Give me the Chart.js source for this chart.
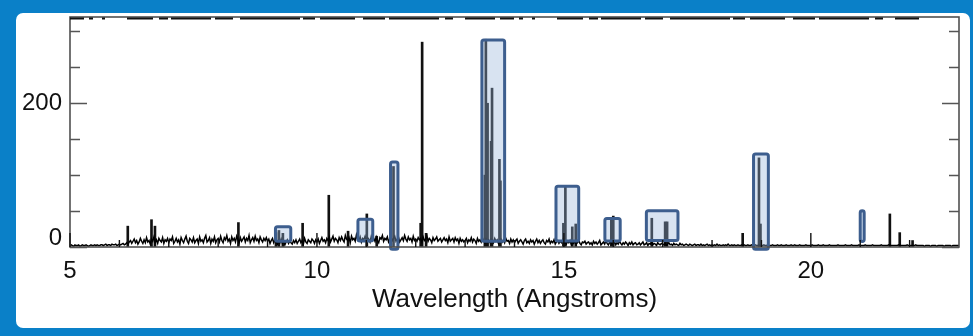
<!DOCTYPE html>
<html>
<head>
<meta charset="utf-8">
<script src="https://cdn.jsdelivr.net/npm/chart.js@4.4.1/dist/chart.umd.min.js"></script>
<style>
  html, body { margin: 0; padding: 0; background: #0a80c8; }
  #frame { position: relative; width: 973px; height: 336px; background: #0a80c8; overflow: hidden; }
  #panel { position: absolute; left: 16px; top: 13px; width: 954px; height: 315px; background: #ffffff; border-radius: 7px; }
  #chart { position: absolute; left: 0; top: 0; }
</style>
</head>
<body>
<div id="frame">
  <div id="panel"></div>
  <canvas id="chart" width="973" height="336"></canvas>
</div>
<script>
// Continuum counts on a regular wavelength grid (5.000 to 23.000 Angstroms, step 0.025)
const continuumStart = 5.0;
const continuumStep = 0.025;
const continuumCounts = [
  2,3,2,1,3,2,2,3,1,2,3,2,2,3,2,1,2,3,2,2,
  3,2,3,2,2,3,3,2,3,4,2,3,3,2,4,3,3,4,2,3,
  4,3,4,5,3,4,6,4,7,9,5,8,11,6,9,4,7,12,8,5,
  10,6,13,7,9,4,11,8,14,6,10,5,12,9,7,13,5,10,8,12,
  6,11,9,14,5,8,12,7,10,4,13,9,6,11,15,8,5,12,10,7,
  13,6,9,11,5,14,8,10,6,12,16,7,9,13,5,11,8,14,6,10,
  12,7,15,9,6,13,10,16,8,11,5,14,9,12,7,15,10,6,13,8,
  11,14,7,12,9,16,6,10,13,8,15,9,11,6,14,10,7,12,9,13,
  8,11,5,9,12,6,10,7,4,9,6,11,5,8,3,7,10,5,8,6,
  4,9,6,10,5,8,11,6,9,4,12,7,5,10,8,6,11,9,5,10,
  7,11,5,9,13,8,10,6,12,9,14,7,11,15,8,12,10,6,13,9,
  14,10,7,16,11,9,13,6,15,10,12,8,17,11,9,14,7,12,10,15,
  9,13,11,7,15,10,12,8,14,9,6,13,11,16,8,12,10,14,7,11,
  13,9,12,15,8,11,14,7,10,13,9,16,11,8,14,10,12,7,15,9,
  11,8,13,10,12,7,14,9,11,16,8,12,10,6,13,9,11,14,8,10,
  12,7,10,13,9,11,6,14,8,10,12,7,13,9,11,5,12,8,10,7,
  9,12,6,10,8,13,7,11,9,5,12,8,10,7,13,9,6,11,8,10,
  7,11,9,6,12,8,10,5,9,11,7,10,6,12,8,9,5,11,7,10,
  6,9,11,5,8,10,7,4,9,11,6,8,5,10,7,9,4,8,11,6,
  9,5,8,10,6,4,9,7,11,5,8,6,10,4,7,9,5,8,6,10,
  5,7,4,8,6,9,3,7,5,8,4,6,9,5,3,7,6,8,4,6,
  7,4,6,3,8,5,7,4,6,9,3,5,7,4,8,5,3,6,7,4,
  5,7,3,6,4,8,5,3,6,4,7,5,2,6,4,7,3,5,6,3,
  4,6,3,5,7,3,4,6,2,5,4,7,3,5,4,2,6,4,3,5,
  4,3,5,2,4,6,3,4,2,5,3,4,3,2,5,3,4,2,3,4,
  3,2,4,3,2,3,4,2,3,3,2,4,2,3,2,3,4,2,3,2,
  3,2,3,2,4,2,3,2,2,3,2,3,2,4,2,2,3,2,3,2,
  2,3,2,2,3,2,3,2,2,3,2,2,3,2,2,3,2,2,3,2,
  2,2,3,2,2,3,2,2,2,3,2,2,2,3,2,2,3,2,2,2,
  3,2,2,2,3,2,2,3,2,2,2,3,2,2,2,2,3,2,2,2,
  2,3,2,2,2,2,3,2,2,2,3,2,2,2,2,3,2,2,2,2,
  2,2,3,2,2,2,2,2,3,2,2,2,2,3,2,2,2,2,2,3,
  2,2,2,2,3,2,2,2,2,2,3,2,2,2,2,2,2,3,2,2,
  2,2,2,3,2,2,2,2,2,2,2,3,2,2,2,2,2,2,3,2,
  2,2,2,2,2,3,2,2,2,2,2,2,1,2,2,2,2,1,2,2,
  2,2,1,2,2,2,2,2,1,2,2,2,2,2,1,2,2,2,2,2,
  2
];

// Emission lines: wavelength (Angstroms) and peak counts
const lineWavelengths = [6.17, 6.65, 6.72, 8.41, 9.17, 9.23, 9.31, 9.71, 10.24, 10.63,
  11.01, 11.21, 11.55, 12.10, 12.13, 12.21, 13.40, 13.42, 13.455, 13.525,
  13.545, 13.695, 13.715, 14.99, 15.03, 15.17, 15.24, 15.96, 16.00, 16.78,
  17.05, 17.09, 18.62, 18.95, 18.98, 21.60, 21.80, 22.06];
const linePeaks = [29, 38, 29, 34, 20, 23, 19, 33, 72, 22,
  46, 15, 112, 33, 285, 19, 100, 289, 200, 147,
  221, 122, 92, 33, 85, 28, 32, 40, 43, 40,
  35, 35, 19, 124, 32, 46, 20, 9];

// Highlighted wavelength bands
const boxStart = [9.16, 10.83, 11.49, 13.34, 14.84, 15.83, 16.67, 18.84, 21.00];
const boxEnd   = [9.47, 11.13, 11.64, 13.80, 15.30, 16.14, 17.31, 19.14, 21.08];
const boxLow   = [8.0, 8.5, -3.0, 8.0, 8.5, 8.2, 8.9, -3.0, 7.6];
const boxHigh  = [28.2, 38.7, 118.4, 288.1, 84.5, 39.6, 50.4, 129.5, 50.5];

// Axis ticks
const xMajorTicks = [5, 10, 15, 20];
const xTickLabels = ['5', '10', '15', '20'];
const xMinorTicks = [6, 7, 8, 9, 11, 12, 13, 14, 16, 17, 18, 19, 21, 22];
const yMajorTicks = [0, 200];
const yTickLabels = ['0', '200'];
const yMinorTicks = [50, 100, 150, 250, 300];

const continuumPoints = continuumCounts.map((c, i) => ({
  x: +(continuumStart + i * continuumStep).toFixed(3), y: c
}));
const linePoints = lineWavelengths.map((w, i) => ({ x: w, y: linePeaks[i] }));

const FONT = "'Liberation Sans', Arial, Helvetica, sans-serif";

const bandBoxes = {
  id: 'bandBoxes',
  afterDatasetsDraw(chart) {
    const { ctx, scales: { x, y } } = chart;
    ctx.save();
    for (let i = 0; i < boxStart.length; i++) {
      const x0 = x.getPixelForValue(boxStart[i]);
      const x1 = x.getPixelForValue(boxEnd[i]);
      const y0 = y.getPixelForValue(boxHigh[i]);
      const y1 = y.getPixelForValue(boxLow[i]);
      ctx.beginPath();
      ctx.roundRect(x0, y0, x1 - x0, y1 - y0, 2);
      ctx.fillStyle = 'rgba(152,181,218,0.38)';
      ctx.fill();
      ctx.lineWidth = 3;
      ctx.strokeStyle = '#3d5e8e';
      ctx.stroke();
    }
    ctx.restore();
  }
};

const plotFrame = {
  id: 'plotFrame',
  afterDraw(chart) {
    const { ctx, chartArea: { left, right, top, bottom }, scales: { x, y } } = chart;
    ctx.save();
    ctx.lineCap = 'butt';
    // box around the plot
    ctx.strokeStyle = '#505050';
    ctx.lineWidth = 1.6;
    ctx.strokeRect(left, top, right - left, bottom - top);
    // ragged upper edge
    ctx.strokeStyle = '#111';
    ctx.lineWidth = 2.2;
    ctx.setLineDash([14, 5, 4, 9, 3, 22, 26, 6, 9, 3, 40, 4, 18, 7, 60, 3, 12, 5, 35, 8, 22, 4, 50, 6, 8, 12, 30, 5]);
    ctx.beginPath();
    ctx.moveTo(left, top + 1.5);
    ctx.lineTo(right - 40, top + 1.5);
    ctx.stroke();
    ctx.setLineDash([]);
    // y ticks, pointing inward on both sides
    ctx.strokeStyle = '#555';
    ctx.lineWidth = 1.6;
    const yTick = (v, len) => {
      const py = Math.round(y.getPixelForValue(v)) + 0.5;
      ctx.beginPath();
      ctx.moveTo(left, py); ctx.lineTo(left + len, py);
      ctx.moveTo(right, py); ctx.lineTo(right - len, py);
      ctx.stroke();
    };
    yMajorTicks.forEach(v => yTick(v, 17));
    yMinorTicks.forEach(v => yTick(v, 10));
    // x ticks, pointing up from the bottom axis
    ctx.strokeStyle = '#111';
    ctx.lineWidth = 1.4;
    const xTick = (v, len) => {
      const px = x.getPixelForValue(v);
      ctx.beginPath();
      ctx.moveTo(px, bottom); ctx.lineTo(px, bottom - len);
      ctx.stroke();
    };
    xMajorTicks.forEach(v => xTick(v, 14));
    xMinorTicks.forEach(v => xTick(v, 7));
    ctx.restore();
  }
};

new Chart(document.getElementById('chart'), {
  type: 'bar',
  data: {
    datasets: [
      {
        type: 'line',
        data: continuumPoints,
        borderColor: '#000',
        borderWidth: 1.5,
        pointRadius: 0,
        tension: 0,
        fill: false,
        order: 1
      },
      {
        type: 'bar',
        data: linePoints,
        backgroundColor: '#111',
        borderWidth: 0,
        barThickness: 2,
        grouped: false,
        order: 2
      }
    ]
  },
  options: {
    responsive: false,
    animation: false,
    events: [],
    layout: { padding: { top: 14, right: 14, left: 0, bottom: 0 } },
    plugins: { legend: { display: false }, tooltip: { enabled: false } },
    scales: {
      x: {
        type: 'linear',
        min: 5,
        max: 23,
        offset: false,
        grid: { display: false, drawTicks: false, offset: false },
        border: { display: false },
        ticks: {
          stepSize: 5,
          autoSkip: false,
          maxRotation: 0,
          padding: 10,
          color: '#111',
          font: { family: FONT, size: 24 },
          callback: v => { const i = xMajorTicks.indexOf(v); return i >= 0 ? xTickLabels[i] : ''; }
        },
        title: {
          display: true,
          text: 'Wavelength (Angstroms)',
          color: '#111',
          font: { family: FONT, size: 26 },
          padding: { top: 0, bottom: 21 }
        },
        afterFit: s => { s.height = 89; }
      },
      y: {
        type: 'linear',
        min: 0,
        max: 320,
        grid: { display: false, drawTicks: false },
        border: { display: false },
        ticks: {
          stepSize: 50,
          autoSkip: false,
          padding: 8,
          color: '#111',
          font: { family: FONT, size: 24, lineHeight: 0.75 },
          callback: v => {
            const i = yMajorTicks.indexOf(v);
            if (i < 0) return '';
            return v === 0 ? [yTickLabels[i], ''] : yTickLabels[i];
          }
        },
        afterFit: s => { s.width = 70; }
      }
    }
  },
  plugins: [bandBoxes, plotFrame]
});
</script>
</body>
</html>
